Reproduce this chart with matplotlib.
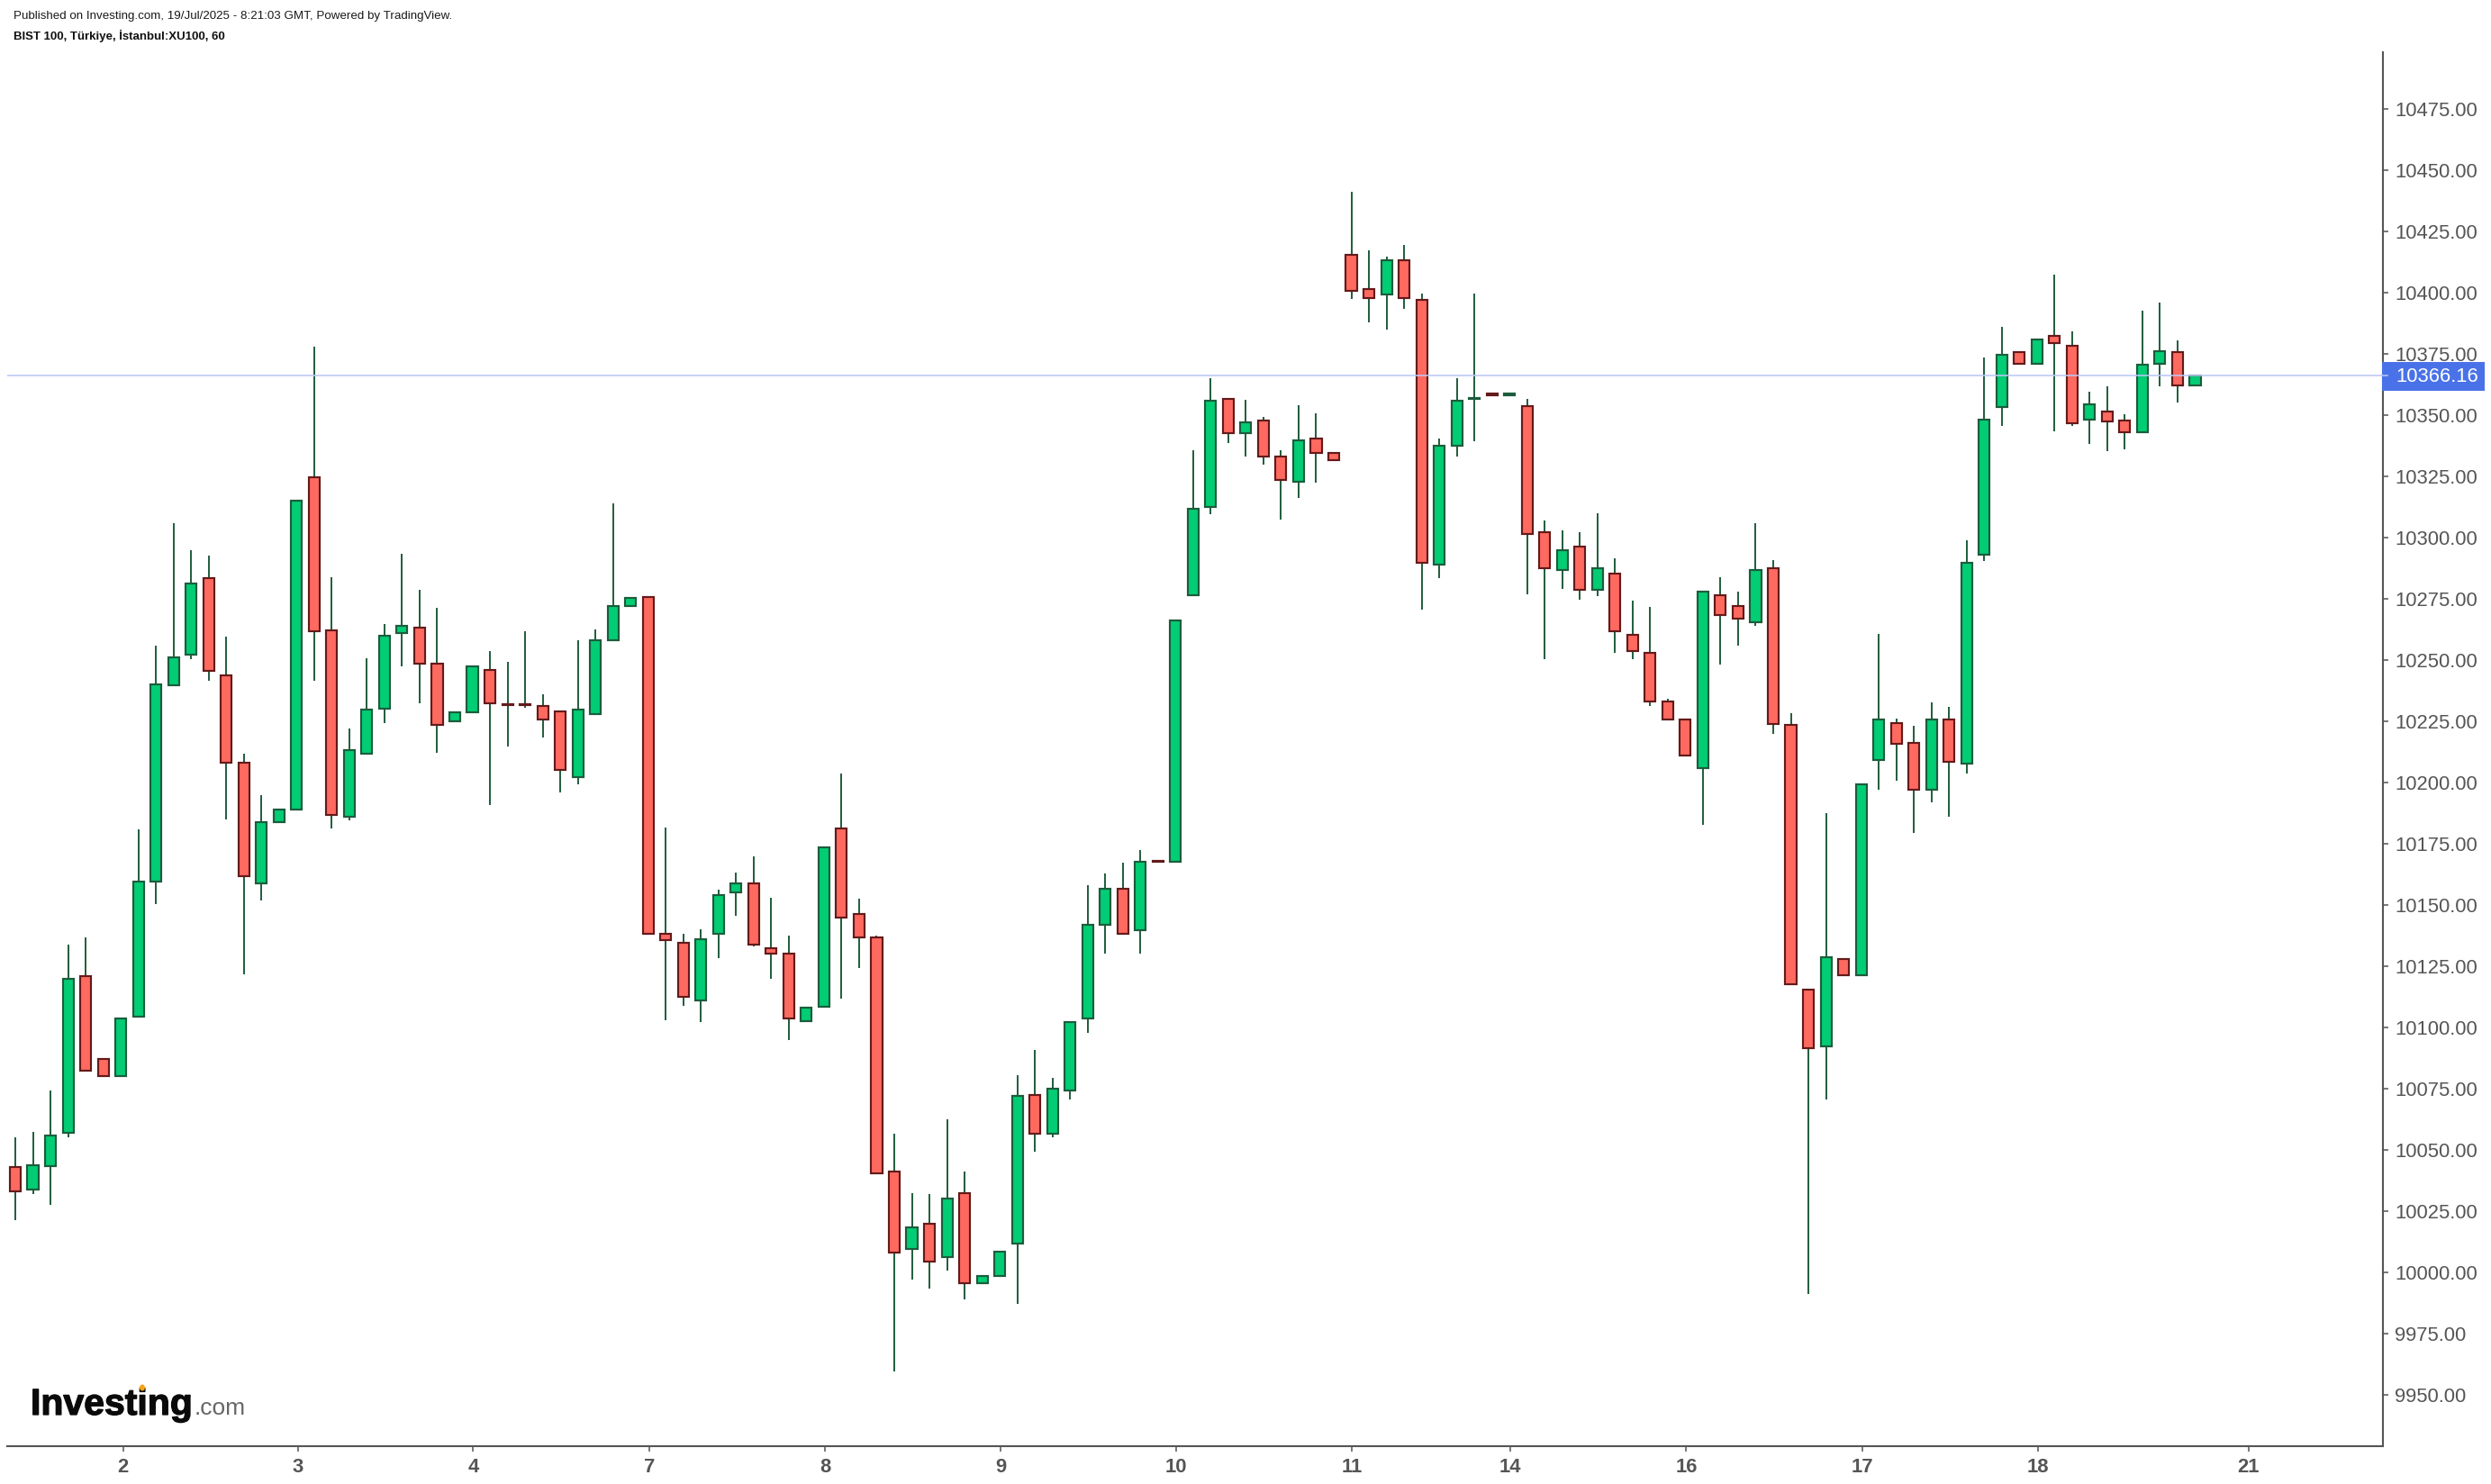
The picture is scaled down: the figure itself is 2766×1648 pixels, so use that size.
import matplotlib
matplotlib.use("Agg")
import matplotlib.pyplot as plt
import matplotlib.patheffects as pe
from matplotlib.lines import Line2D
from matplotlib.patches import Ellipse, Rectangle
import numpy as np

plt.rcParams['font.family'] = ['Liberation Sans', 'DejaVu Sans']

opens = [10043.0,10033.7,10043.2,10056.7,10120.9,10087.1,10080.1,10104.4,10159.6,10239.5,
         10252.2,10283.4,10243.7,10207.8,10158.8,10183.8,10189.0,10324.7,10262.2,10185.9,
         10211.7,10230.0,10260.9,10263.0,10248.3,10224.8,10228.7,10246.0,10231.8,10231.8,
         10231.3,10229.0,10202.1,10227.9,10258.1,10272.0,10275.8,10138.0,10134.4,10111.0,
         10138.2,10155.1,10158.6,10132.1,10130.0,10102.3,10108.2,10181.3,10146.2,10136.5,
         10040.9,10009.5,10019.6,10006.0,10032.2,9995.6,9998.4,10011.8,10072.5,10056.6,
         10074.2,10103.7,10141.9,10156.5,10139.6,10167.9,10167.7,10276.3,10312.3,10356.4,
         10342.5,10347.6,10333.0,10322.6,10340.3,10334.5,10415.3,10401.4,10399.2,10413.1,
         10396.9,10288.9,10337.5,10356.4,10358.6,10358.0,10353.6,10302.0,10286.6,10296.2,
         10278.6,10285.1,10260.2,10252.9,10233.0,10225.7,10205.8,10276.3,10272.0,10265.2,
         10287.3,10223.4,10115.3,10092.0,10127.7,10121.3,10209.0,10224.0,10215.9,10197.1,
         10225.6,10207.6,10292.8,10353.2,10375.6,10370.9,10382.2,10378.3,10347.9,10351.2,
         10347.6,10342.9,10370.9,10375.6,10362.0]
closes = [10032.9,10043.8,10055.6,10119.6,10082.2,10080.1,10103.4,10159.3,10240.1,10251.1,
          10281.3,10245.5,10208.1,10161.6,10183.6,10188.7,10315.1,10261.7,10186.7,10213.0,
          10229.7,10259.9,10263.8,10248.6,10223.5,10228.4,10247.5,10232.3,10231.5,10231.5,
          10225.6,10205.0,10229.7,10257.9,10271.8,10275.4,10138.0,10135.4,10112.4,10135.8,
          10154.1,10158.6,10133.7,10130.2,10103.7,10107.9,10173.4,10144.8,10136.8,10040.4,
          10008.1,10018.1,10004.3,10029.9,9995.6,9998.4,10008.5,10071.8,10056.6,10074.9,
          10102.1,10141.7,10156.5,10138.2,10167.5,10167.7,10266.0,10311.6,10355.8,10342.5,
          10347.0,10333.0,10323.4,10339.5,10334.5,10331.5,10400.7,10397.7,10413.1,10397.7,
          10289.6,10337.5,10355.8,10356.8,10358.0,10358.6,10301.4,10287.4,10294.7,10278.6,
          10287.4,10261.7,10253.6,10233.0,10225.7,10210.8,10277.8,10268.2,10266.7,10286.6,
          10223.7,10117.7,10091.5,10128.5,10121.3,10199.1,10225.6,10215.7,10197.1,10225.6,
          10208.2,10289.5,10348.2,10374.7,10370.9,10380.8,10379.4,10346.5,10354.3,10347.3,
          10342.9,10370.3,10376.1,10362.0,10366.2]
highs = [10055.1,10057.2,10074.2,10133.8,10136.6,10087.1,10103.4,10180.7,10255.8,10305.8,
         10294.7,10292.7,10259.4,10211.7,10194.7,10188.7,10315.1,10377.8,10283.6,10222.0,
         10250.6,10264.6,10293.2,10278.5,10271.3,10228.4,10247.5,10253.5,10249.1,10261.7,
         10235.9,10229.0,10258.1,10262.5,10313.8,10275.4,10275.8,10181.6,10138.2,10139.8,
         10156.0,10163.3,10169.8,10153.0,10137.5,10107.9,10173.4,10203.6,10152.3,10137.5,
         10056.6,10032.4,10031.7,10062.5,10041.1,9998.4,10008.5,10080.3,10090.6,10079.3,
         10102.1,10158.1,10162.6,10167.0,10172.2,10167.9,10266.0,10335.4,10364.8,10356.4,
         10356.0,10349.3,10335.4,10353.8,10350.8,10334.5,10441.2,10417.0,10414.7,10419.2,
         10399.4,10340.5,10364.8,10399.4,10358.6,10358.6,10356.6,10306.7,10302.9,10302.2,
         10309.7,10291.3,10274.2,10271.4,10234.1,10225.7,10277.8,10283.8,10278.0,10305.9,
         10290.6,10228.1,10115.3,10187.5,10127.7,10199.1,10260.5,10225.9,10222.9,10232.5,
         10230.9,10298.7,10373.6,10386.1,10375.6,10380.8,10407.4,10383.9,10359.5,10361.7,
         10350.1,10392.7,10395.8,10380.3,10366.2]
lows = [10021.1,10031.9,10027.5,10054.9,10082.2,10080.1,10080.1,10104.4,10150.3,10239.5,
        10250.4,10241.3,10184.9,10121.7,10151.8,10183.8,10189.0,10241.6,10181.2,10184.3,
        10211.7,10224.1,10247.3,10232.1,10212.2,10224.8,10228.7,10190.8,10214.5,10230.5,
        10218.1,10195.9,10199.0,10227.9,10258.1,10272.0,10138.0,10102.8,10108.6,10102.1,
        10128.3,10145.5,10132.8,10119.7,10094.6,10102.3,10108.2,10111.5,10124.1,10040.4,
        9959.5,9996.8,9993.1,10000.6,9988.8,9995.6,9998.4,9987.2,10049.1,10055.0,
        10070.4,10097.6,10130.0,10138.2,10130.0,10167.7,10167.7,10276.3,10309.3,10338.6,
        10332.8,10329.8,10307.1,10315.9,10322.5,10331.5,10397.5,10387.9,10384.9,10393.2,
        10270.3,10283.4,10332.8,10339.3,10358.0,10358.0,10276.9,10250.4,10279.1,10274.6,
        10276.1,10252.7,10250.4,10231.3,10225.7,10210.8,10182.7,10248.2,10255.7,10263.7,
        10219.8,10117.7,9991.1,10070.4,10121.3,10121.3,10196.9,10200.7,10179.4,10191.9,
        10186.1,10203.5,10290.4,10345.4,10370.9,10370.9,10343.2,10345.4,10338.2,10335.2,
        10336.0,10342.9,10361.7,10355.1,10362.0]

last_price = 10366.16
y_ticks = [9950 + 25 * k for k in range(22)]
day_labels = ['2', '3', '4', '7', '8', '9', '10', '11', '14', '16', '17', '18', '21']
day_positions = [6.13, 16.07, 26.05, 36.05, 46.05, 56.05, 66.05, 76.05, 85.05, 95.05, 105.05, 115.05, 127.03]

W, H = 2766, 1648
DPI = 100
GREEN_FILL, GREEN_EDGE = '#02CC74', '#1C5C3C'
RED_FILL, RED_EDGE = '#FF6A60', '#641A1A'
WICK = '#1F5C3C'
AXIS = '#555555'
PRICE_LINE = '#BCC8F5'

fig = plt.figure(figsize=(W / DPI, H / DPI), dpi=DPI, facecolor='white')
L, R, T, B = 8, 2646, 58, 1606
ax = fig.add_axes([L / W, 1 - B / H, (R - L) / W, (B - T) / H])

x = np.arange(len(opens))
o, c, h, l = map(np.array, (opens, closes, highs, lows))
up = c > o
ax.vlines(x, l, h, color=WICK, lw=1.4, zorder=2)
ax.bar(x[up], (c - o)[up], bottom=o[up], width=0.62, color=GREEN_FILL,
       edgecolor=GREEN_EDGE, linewidth=1.55, zorder=3)
ax.bar(x[~up], (c - o)[~up], bottom=o[~up], width=0.62, color=RED_FILL,
       edgecolor=RED_EDGE, linewidth=1.55, zorder=3)

px_x = 19.52
ax.set_xlim((L - 17) / px_x, (R - 17) / px_x)
ax.set_ylim(10400 - (B - 324.7) / 2.72, 10400 + (324.7 - T) / 2.72)

ax.axhline(last_price, color=PRICE_LINE, lw=1.15, zorder=5)

for s in ('top', 'left'):
    ax.spines[s].set_visible(False)
for s in ('right', 'bottom'):
    ax.spines[s].set_color(AXIS)
    ax.spines[s].set_linewidth(1.5)
ax.yaxis.tick_right()
ax.set_yticks(y_ticks)
ax.set_yticklabels([f'{v:.2f}' for v in y_ticks], fontsize=15.8, color=AXIS)
ax.set_xticks(day_positions)
ax.set_xticklabels(day_labels, fontsize=15.8, color=AXIS, fontweight='bold')
ax.tick_params(axis='y', length=4.6, width=1.1, color=AXIS, pad=5)
ax.tick_params(axis='x', length=4.6, width=1.1, color=AXIS, pad=5)

fig.add_artist(Rectangle((2645 / W, 1 - 434 / H), 114 / W, 32 / H, transform=fig.transFigure,
                         facecolor='#4A72E8', edgecolor='none', zorder=15))
fig.add_artist(Line2D([2645 / W, 2651 / W], [1 - 416.8 / H] * 2, transform=fig.transFigure,
                      color=PRICE_LINE, lw=1.15, zorder=16))
fig.text(2660 / W, 1 - 418 / H, f'{last_price:.2f}', fontsize=15.8, color='white', va='center', zorder=20)

fig.text(15 / W, 1 - 18 / H, 'Published on Investing.com, 19/Jul/2025 - 8:21:03 GMT, Powered by TradingView.',
         fontsize=9.6, color='#1A1A1A', va='center')
fig.text(15 / W, 1 - 40 / H, 'BIST 100, Türkiye, İstanbul:XU100, 60',
         fontsize=9.5, color='#111111', va='center', fontweight='bold')

logo_stroke = [pe.withStroke(linewidth=0.9, foreground='#0A0A0A')]
fig.text(34 / W, 1 - 1571 / H, 'Investing', fontsize=29.5, fontweight='bold', color='#0A0A0A',
         va='baseline', path_effects=logo_stroke)
fig.text(216 / W, 1 - 1571 / H, '.com', fontsize=19, color='#666666', va='baseline')
fig.add_artist(Ellipse((158 / W, 1 - 1541 / H), 6 / W, 7 / H, angle=0, transform=fig.transFigure,
                       facecolor='#F7A21B', edgecolor='none', zorder=10))

fig.savefig('out.png', dpi=DPI, facecolor='white')
